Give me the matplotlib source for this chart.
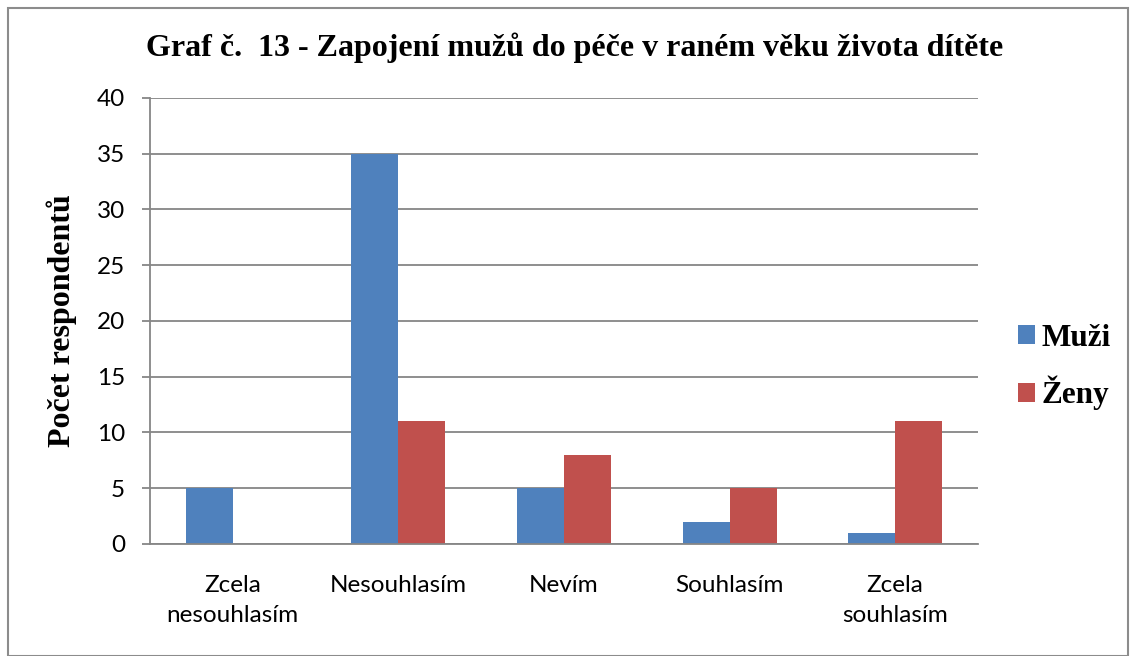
import numpy as np
import matplotlib
matplotlib.use('Agg')
import matplotlib.pyplot as plt
from matplotlib.patches import Rectangle

categories = ['Zcela\nnesouhlasím', 'Nesouhlasím', 'Nevím', 'Souhlasím', 'Zcela\nsouhlasím']
muzi = [5, 35, 5, 2, 1]
zeny = [0, 11, 8, 5, 11]

barWidth = 0.284
grid_col = '#868686'

fig = plt.figure(figsize=(11.32, 6.56), dpi=100)
ax = fig.add_axes([150 / 1132, 1 - 544 / 656, (978 - 150) / 1132, (544 - 98) / 656])

x = np.arange(len(categories))
ax.bar(x - barWidth / 2, muzi, barWidth, color='#4F81BD', label='Muži')
ax.bar(x + barWidth / 2, zeny, barWidth, color='#C0504D', label='Ženy')

ax.set_xlim(-0.5, len(categories) - 0.5)
ax.set_ylim(0, 40)
ax.set_yticks(range(0, 41, 5))
ax.set_xticks(x)
ax.set_xticklabels(categories, fontfamily='Lato', fontsize=17.5, linespacing=1.55)
for lab in ax.get_yticklabels():
    lab.set_fontfamily('Lato')
    lab.set_fontsize(17.5)
ax.yaxis.grid(True, color=grid_col, linewidth=1.3)
ax.set_axisbelow(True)
for s in ['top', 'right']:
    ax.spines[s].set_visible(False)
for s in ['left', 'bottom']:
    ax.spines[s].set_color(grid_col)
    ax.spines[s].set_linewidth(1.3)
ax.tick_params(axis='y', length=6, color=grid_col, width=1.3, pad=12)
ax.tick_params(axis='x', length=0, pad=22)

ax.set_ylabel('Počet respondentů', fontfamily='Liberation Serif', fontweight='bold',
              fontsize=23, va='center')
ax.yaxis.set_label_coords((62 - 150) / 828, 0.5)
fig.text(575 / 1132, 1 - 48 / 656, 'Graf č.  13 - Zapojení mužů do péče v raném věku života dítěte',
         ha='center', va='center', fontfamily='Liberation Serif', fontweight='bold', fontsize=23)

fig.legend(loc='center left', bbox_to_anchor=(1018 / 1132, 1 - 367 / 656), frameon=False,
           prop={'family': 'Liberation Serif', 'weight': 'bold', 'size': 22.5},
           borderpad=0, borderaxespad=0,
           handlelength=0.55, handleheight=0.55, handletextpad=0.2, labelspacing=0.75)

fig.patches.append(Rectangle((8 / 1132, 0), 1120 / 1132, 1 - 8 / 656, transform=fig.transFigure,
                             fill=False, edgecolor='#8c8c8c', linewidth=1.5))

fig.savefig('out.png', dpi=100)
